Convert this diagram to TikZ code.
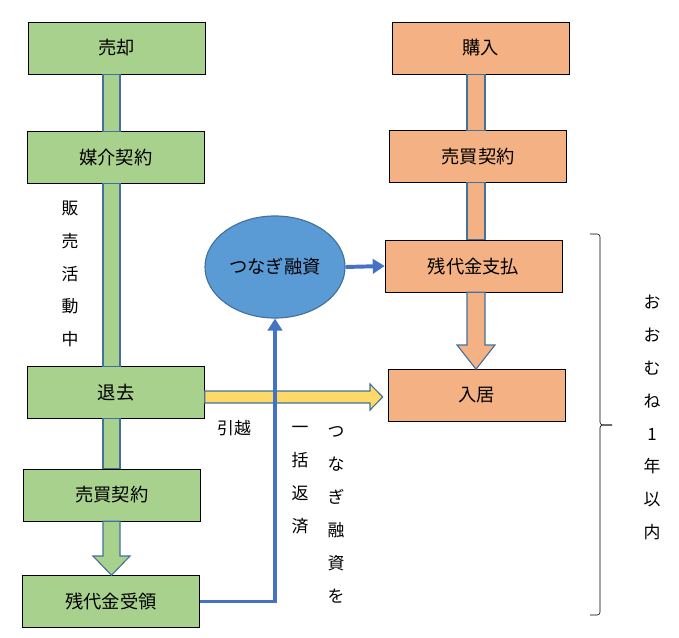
\documentclass[tikz,border=0pt]{standalone}
\usepackage{fontspec}
\setmainfont{Noto Sans CJK JP}
\usetikzlibrary{shapes.geometric,arrows.meta,calc}
\definecolor{sellgreen}{HTML}{A9D18E}
\definecolor{buyorange}{HTML}{F4B183}
\definecolor{moveyellow}{HTML}{FFD966}
\definecolor{loanblue}{HTML}{5B9BD5}
\definecolor{linkblue}{HTML}{4472C4}
\definecolor{stemline}{HTML}{41719C}
\begin{document}
\begin{tikzpicture}[x=0.025cm,y=-0.025cm,
  box/.style={draw=black,fill=#1,minimum width=4.425cm,minimum height=1.3cm,inner sep=0pt,font=\fontsize{13}{15}\selectfont},
  stem/.style={draw=stemline,fill=#1,line width=0.8pt},
  link/.style={draw=linkblue,line width=2.8pt,-{Triangle[length=3mm,width=3.6mm]}},
  vtext/.style={align=center,inner sep=0pt,font=\fontsize{12}{23.4}\selectfont}]
\useasboundingbox (0,0) rectangle (679,638);
% selling side
\node[box=sellgreen] (sale) at (116.5,48) {売却};
\node[box=sellgreen] (broker) at (116,157.5) {媒介契約};
\node[box=sellgreen] (moveout) at (116,392.5) {退去};
\node[box=sellgreen] (sellcontract) at (112,495) {売買契約};
\node[box=sellgreen] (received) at (111,601.5) {残代金受領};
\draw[stem=sellgreen] (sale.south -| 103,0) rectangle (broker.north -| 120,0);
\draw[stem=sellgreen] (broker.south -| 103,0) rectangle (moveout.north -| 120,0);
\draw[stem=sellgreen] (moveout.south -| 103,0) rectangle (sellcontract.north -| 120,0);
\draw[stem=sellgreen] (sellcontract.south -| 103,0) -- (103,556) -- (93,556)
  -- (received.north -| 111.5,0) -- (130,556) -- (120,556) -- (sellcontract.south -| 120,0) -- cycle;
% buying side
\node[box=buyorange] (purchase) at (480.5,48) {購入};
\node[box=buyorange] (buycontract) at (478,156.5) {売買契約};
\node[box=buyorange] (payment) at (473.5,266) {残代金支払};
\node[box=buyorange] (movein) at (476.5,395.5) {入居};
\draw[stem=buyorange] (purchase.south -| 467,0) rectangle (buycontract.north -| 485,0);
\draw[stem=buyorange] (buycontract.south -| 467,0) rectangle (payment.north -| 485,0);
\draw[stem=buyorange] (payment.south -| 467,0) -- (467,345) -- (457,345)
  -- (movein.north -| 476,0) -- (495,345) -- (485,345) -- (payment.south -| 485,0) -- cycle;
% moving
\draw[stem=moveyellow] (moveout.east |- 0,391) -- (370,391) -- (370,384)
  -- ($(movein.west)+(-5,1.5)$) -- (370,410) -- (370,403) -- (moveout.east |- 0,403) -- cycle;
% bridge loan
\node[ellipse,draw=stemline,line width=0.8pt,fill=loanblue,minimum width=3.5cm,minimum height=2.55cm,
  inner sep=0pt,font=\fontsize{13}{15}\selectfont] (loan) at (275,267) {つなぎ融資};
\draw[link] (received.east) -| (loan.south);
\draw[link] (loan.east) -- (payment.west);
% notes
\node[vtext] (selling) at (70,274) {販\\売\\活\\動\\中};
\node[vtext] (moving) at (234,428) {引越};
\node[vtext] (repay) at (300,480) {一\\括\\返\\済};
\node[vtext] (loanrepay) at (336,515) {つ\\な\\ぎ\\融\\資\\を};
\node[vtext] (period) at (652,417.5) {お\\お\\む\\ね\\1\\年\\以\\内};
\draw[rounded corners=2] (590,234) -| (600,425) -- (612,425);
\draw[rounded corners=2] (612,425) -- (600,425) |- (590,615);
\end{tikzpicture}
\end{document}
